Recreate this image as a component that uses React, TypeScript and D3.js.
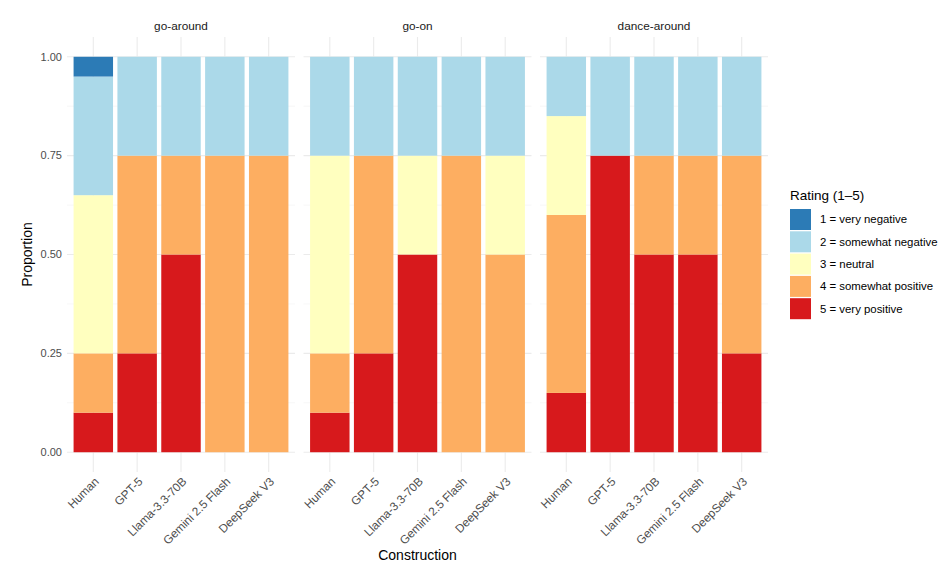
import React from "react";
import * as d3 from "d3";

const constructions = ["go-around", "go-on", "dance-around"];
const models = ["Human", "GPT-5", "Llama-3.3-70B", "Gemini 2.5 Flash", "DeepSeek V3"];
// values listed per construction (5 models each), in order of constructions
const rating1 = [0.05, 0, 0, 0, 0, 0, 0, 0, 0, 0, 0, 0, 0, 0, 0];
const rating2 = [0.3, 0.25, 0.25, 0.25, 0.25, 0.25, 0.25, 0.25, 0.25, 0.25, 0.15, 0.25, 0.25, 0.25, 0.25];
const rating3 = [0.4, 0, 0, 0, 0, 0.5, 0, 0.25, 0, 0.25, 0.25, 0, 0, 0, 0];
const rating4 = [0.15, 0.5, 0.25, 0.75, 0.75, 0.15, 0.5, 0, 0.75, 0.5, 0.45, 0, 0.25, 0.25, 0.5];
const rating5 = [0.1, 0.25, 0.5, 0, 0, 0.1, 0.25, 0.5, 0, 0, 0.15, 0.75, 0.5, 0.5, 0.25];
const ratingLabels = ["1 = very negative", "2 = somewhat negative", "3 = neutral", "4 = somewhat positive", "5 = very positive"];
const ratingColors = ["#2c7bb6", "#abd9e9", "#ffffbf", "#fdae61", "#d7191c"];
const yTicks = [0, 0.25, 0.5, 0.75, 1];
const yMinor = [0.125, 0.375, 0.625, 0.875];

const W = 949;
const H = 572;
const panelW = 228;
const panelGap = 8.5;
const left = 67;
const top = 37;
const bottom = 472;
const FONT = "'Liberation Sans', Arial, Helvetica, sans-serif";

export default function App() {
  const series = [rating1, rating2, rating3, rating4, rating5];
  const rows = constructions.flatMap((c, ci) =>
    models.map((m, mi) => {
      const r: any = { construction: c, model: m };
      series.forEach((s, k) => (r[String(k + 1)] = s[ci * 5 + mi]));
      return r;
    })
  );
  const keys = ["5", "4", "3", "2", "1"];
  const stacked = d3.stack<any>().keys(keys)(rows);

  const y = d3.scaleLinear().domain([-0.05, 1.05]).range([bottom, top]);
  const fmt = d3.format(".2f");

  const panelX = (ci: number) => left + ci * (panelW + panelGap);

  return (
    <svg width={W} height={H} style={{ position: "absolute", left: 0, top: 0, background: "#fff" }} fontFamily={FONT}>
      {constructions.map((c, ci) => {
        const x0 = panelX(ci);
        const x = d3.scalePoint<string>().domain(models).range([x0, x0 + panelW]).padding(0.6);
        const bw = x.step() * 0.9;
        return (
          <g key={c}>
            {yMinor.map((t) => (
              <line key={"mn" + t} x1={x0} x2={x0 + panelW} y1={y(t)} y2={y(t)} stroke="#f2f2f2" strokeWidth={0.6} />
            ))}
            {yTicks.map((t) => (
              <line key={"mj" + t} x1={x0} x2={x0 + panelW} y1={y(t)} y2={y(t)} stroke="#ebebeb" strokeWidth={1.1} />
            ))}
            {models.map((m) => (
              <line key={"v" + m} x1={x(m)!} x2={x(m)!} y1={top} y2={bottom} stroke="#ebebeb" strokeWidth={1.1} />
            ))}
            {stacked.map((layer) => {
              const k = Number(layer.key);
              return layer
                .filter((d) => d.data.construction === c)
                .map((d) =>
                  d[1] - d[0] > 0 ? (
                    <rect
                      key={layer.key + d.data.model}
                      x={x(d.data.model)! - bw / 2}
                      width={bw}
                      y={y(d[1])}
                      height={y(d[0]) - y(d[1])}
                      fill={ratingColors[k - 1]}
                    />
                  ) : null
                );
            })}
            <text x={x0 + panelW / 2} y={30} textAnchor="middle" fontSize={11.8} fill="#1a1a1a">
              {c}
            </text>
            {models.map((m) => (
              <text
                key={"xl" + m}
                transform={`translate(${x(m)},${bottom + 4}) rotate(-45)`}
                textAnchor="end"
                dy="0.75em"
                fontSize={11.8}
                fill="#4d4d4d"
              >
                {m}
              </text>
            ))}
          </g>
        );
      })}
      {yTicks.map((t) => (
        <text key={"yl" + t} x={62} y={y(t)} dy="0.35em" textAnchor="end" fontSize={11} fill="#4d4d4d">
          {fmt(t)}
        </text>
      ))}
      <text transform={`translate(32,${(top + bottom) / 2}) rotate(-90)`} textAnchor="middle" fontSize={14} fill="#000">
        Proportion
      </text>
      <text x={left + (3 * panelW + 2 * panelGap) / 2} y={560} textAnchor="middle" fontSize={14} fill="#000">
        Construction
      </text>
      <g>
        <text x={790} y={200} fontSize={13.5} fill="#000">
          Rating (1–5)
        </text>
        {ratingLabels.map((l, i) => (
          <g key={l}>
            <rect x={790} y={209 + i * 22.3} width={21} height={21} fill={ratingColors[i]} />
            <text x={820} y={209 + i * 22.3 + 10.5} dy="0.35em" fontSize={11.4} fill="#000">
              {l}
            </text>
          </g>
        ))}
      </g>
    </svg>
  );
}
